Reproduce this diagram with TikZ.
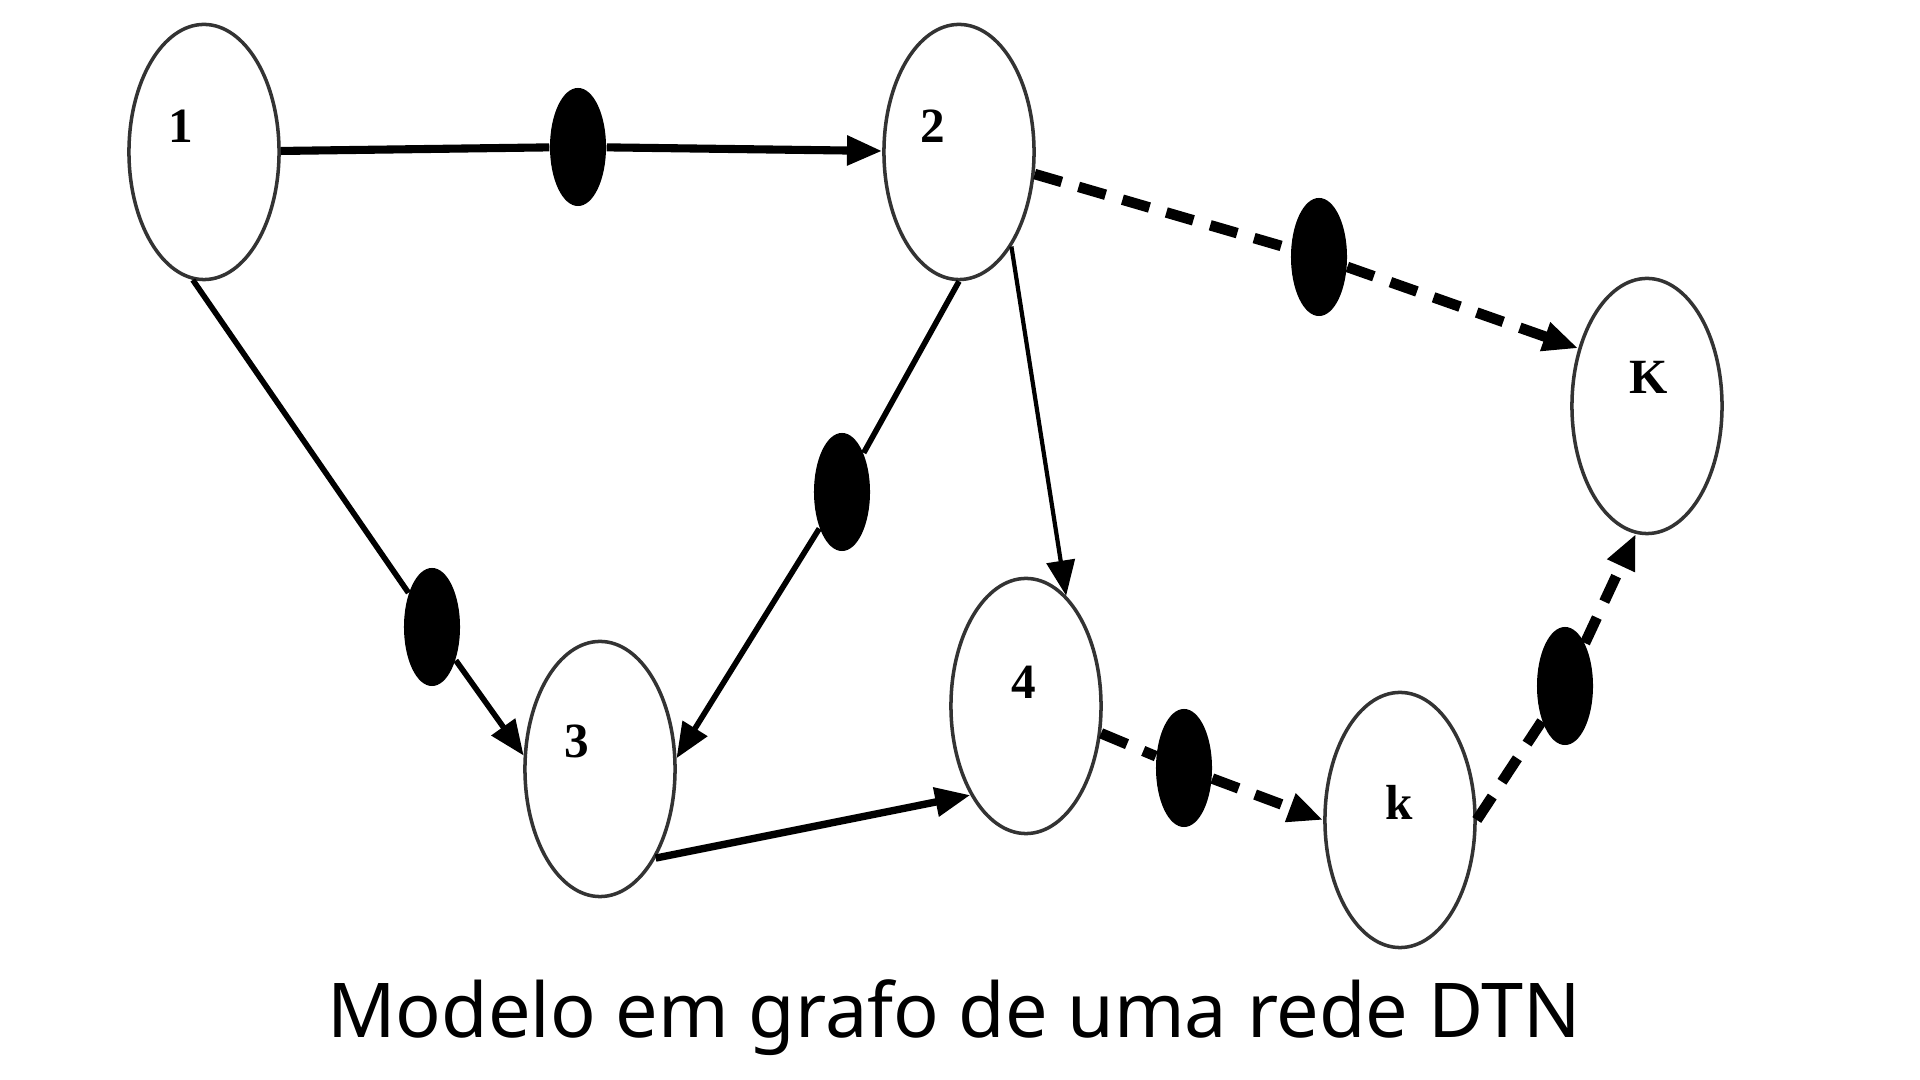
\documentclass[tikz,border=0pt]{standalone}
\usepackage{fontspec}
\setmainfont{Noto Sans}
\newfontfamily\labelfont{Liberation Serif}
\usetikzlibrary{shapes.geometric, arrows.meta}

\begin{document}
\begin{tikzpicture}[x=0.01cm, y=-0.01cm,
  vertex/.style={draw=black!80, line width=1pt, ellipse, minimum width=1.5cm, minimum height=2.55cm, inner sep=0pt},
  relay/.style={fill=black, ellipse, minimum width=0.56cm, minimum height=1.18cm, inner sep=0pt},
  lbl/.style={font=\labelfont\bfseries\fontsize{14}{14}\selectfont, inner sep=0pt},
  link/.style={line width=1.6pt, -{Triangle[length=10pt, width=8pt]}},
  dlink/.style={link, line width=3pt, dash pattern=on 8pt off 5pt}]
\useasboundingbox (0,0) rectangle (1920,1080);

% nodes of the network
\node[vertex, label={[lbl, xshift=-0.23cm, yshift=0.26cm]center:1}] (n1) at (204,152) {};
\node[vertex, label={[lbl, xshift=-0.26cm, yshift=0.26cm]center:2}] (n2) at (959,152) {};
\node[vertex, label={[lbl, xshift=-0.23cm, yshift=0.28cm]center:3}] (n3) at (600,769) {};
\node[vertex, label={[lbl, xshift=-0.02cm, yshift=0.24cm]center:4}] (n4) at (1026,706) {};
\node[vertex, label={[lbl, xshift=-0.01cm, yshift=0.18cm]center:k}] (nk) at (1400,820) {};
\node[vertex, label={[lbl, xshift=0.02cm, yshift=0.29cm]center:K}] (nK) at (1647,406) {};

% relays on the links
\node[relay] (d12) at (578,147) {};
\node[relay] (d13) at (432,627) {};
\node[relay] (d23) at (842,492) {};
\node[relay] (d2K) at (1319,257) {};
\node[relay] (d4k) at (1184,768) {};
\node[relay] (dkK) at (1565,686) {};

% links
\draw[link, line width=2.3pt] (n1) -- (d12) -- (n2);
\draw[link] (n1.-95) -- (d13) -- (n3.170);
\draw[link] (n2.south) -- (d23) -- (n3.8);
\draw[link, line width=1.2pt] (n2.-61) -- (n4.70);
\draw[link, line width=2.1pt] (n3.-58) -- (n4.-122);
\draw[dlink] (n2) -- (d2K) -- (nK.140);
\draw[dlink] (n4.-20) -- (d4k) -- (nk.west);
\draw[dlink] (nk.east) -- (dkK) -- (nK.-95);

\node[font=\fontsize{21.5}{26}\selectfont, anchor=base] (caption) at (954,1038) {Modelo em grafo de uma rede DTN};
\end{tikzpicture}
\end{document}
